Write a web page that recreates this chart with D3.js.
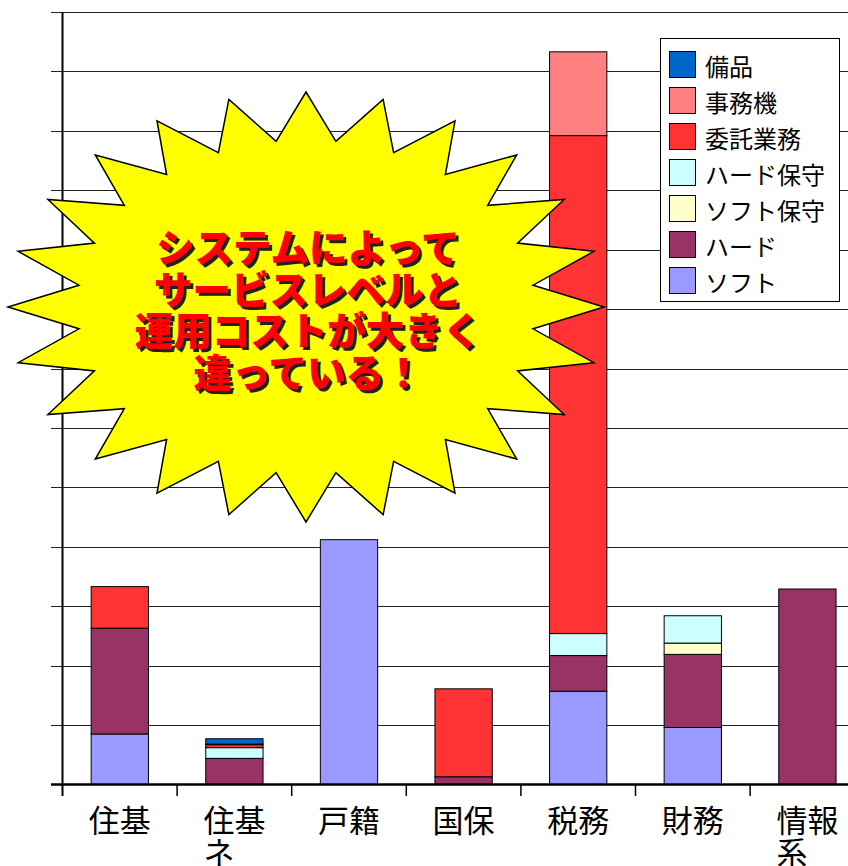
<!DOCTYPE html>
<html>
<head>
<meta charset="utf-8">
<script src="https://cdn.jsdelivr.net/npm/d3@7"></script>
<style>
  body { margin: 0; background: #fff; }
  svg { display: block; font-family: "Noto Sans CJK JP", "Noto Sans", sans-serif; }
</style>
</head>
<body>
<svg id="chart"></svg>
<script>
// categories (x axis)
var categories = ["住基", "住基ネ", "戸籍", "国保", "税務", "財務", "情報系"];

// series values, stacked bottom -> top
var soft        = [85, 0, 412, 0, 157, 96, 0];
var hard        = [178, 44, 0, 13, 60, 123, 329];
var softMaint   = [0, 0, 0, 0, 0, 19, 0];
var hardMaint   = [0, 18, 0, 0, 37, 46, 0];
var outsourcing = [70, 5, 0, 148, 838, 0, 0];
var officeMach  = [0, 1, 0, 0, 141, 0, 0];
var equipment   = [0, 9, 0, 0, 0, 0, 0];

var seriesNames = ["ソフト", "ハード", "ソフト保守", "ハード保守", "委託業務", "事務機", "備品"];
var seriesColors = ["#9999FF", "#993366", "#FFFFCC", "#CCFFFF", "#FF3333", "#FF8080", "#0066CC"];
var seriesValues = [soft, hard, softMaint, hardMaint, outsourcing, officeMach, equipment];

var yTicks = d3.range(0, 1301, 100);

var calloutLines = ["システムによって", "サービスレベルと", "運用コストが大きく", "違っている！"];

var width = 848, height = 866;
var svg = d3.select("#chart").attr("width", width).attr("height", height);

var x0 = 62.5, step = 114.6;
var x = d3.scaleBand()
    .domain(categories)
    .range([x0, x0 + step * categories.length])
    .paddingInner(0.5)
    .paddingOuter(0.25);

var y = d3.scaleLinear().domain([0, 1300]).range([784.5, 12]);

// table for d3.stack
var table = categories.map(function (c, i) {
    var row = { cat: c };
    seriesNames.forEach(function (s, j) { row[s] = seriesValues[j][i]; });
    return row;
});
var stacked = d3.stack().keys(seriesNames)(table);

// gridlines
svg.append("g").selectAll("line")
    .data(yTicks.slice(1))
    .enter().append("line")
    .attr("x1", 51).attr("x2", width)
    .attr("y1", d => Math.round(y(d)) + 0.5)
    .attr("y2", d => Math.round(y(d)) + 0.5)
    .attr("stroke", "#222")
    .attr("stroke-width", 1);

// bars
var layer = svg.append("g").selectAll("g")
    .data(stacked)
    .enter().append("g")
    .attr("fill", (d, i) => seriesColors[i]);

layer.selectAll("rect")
    .data(d => d.filter(p => p[1] - p[0] > 0))
    .enter().append("rect")
    .attr("x", d => x(d.data.cat))
    .attr("y", d => y(d[1]))
    .attr("width", x.bandwidth())
    .attr("height", d => y(d[0]) - y(d[1]))
    .attr("stroke", "#000")
    .attr("stroke-width", 1);

// axes
svg.append("line")
    .attr("x1", x0).attr("x2", x0)
    .attr("y1", y(1300)).attr("y2", 796)
    .attr("stroke", "#000").attr("stroke-width", 2);
svg.append("line")
    .attr("x1", 51).attr("x2", width)
    .attr("y1", y(0)).attr("y2", y(0))
    .attr("stroke", "#000").attr("stroke-width", 2.5);

// category ticks at band boundaries
svg.append("g").selectAll("line")
    .data(categories.slice(1))
    .enter().append("line")
    .attr("x1", d => x(d) - x.step() * 0.25)
    .attr("x2", d => x(d) - x.step() * 0.25)
    .attr("y1", y(0)).attr("y2", 796)
    .attr("stroke", "#000").attr("stroke-width", 1.5);

// category labels (wrap after 2 chars, left aligned under first line)
var fsCat = 31;
var labels = svg.append("g").selectAll("text")
    .data(categories)
    .enter().append("text")
    .attr("font-size", fsCat)
    .attr("fill", "#000");
labels.each(function (d) {
    var cx = x(d) + x.bandwidth() / 2;
    var first = d.slice(0, 2), rest = d.slice(2);
    var left = cx - first.length * fsCat / 2;
    var t = d3.select(this);
    t.append("tspan").attr("x", left).attr("y", 832).text(first);
    if (rest) t.append("tspan").attr("x", left).attr("y", 864).text(rest);
});

// legend
var lg = svg.append("g");
lg.append("rect")
    .attr("x", 660.5).attr("y", 38.5)
    .attr("width", 179).attr("height", 263)
    .attr("fill", "#fff").attr("stroke", "#000");
var order = seriesNames.map((s, i) => i).reverse();
var items = lg.selectAll("g.item")
    .data(order)
    .enter().append("g")
    .attr("transform", (d, i) => "translate(669," + (51 + i * 36) + ")");
items.append("rect")
    .attr("x", 0.5).attr("y", 0.5)
    .attr("width", 26).attr("height", 26)
    .attr("fill", d => seriesColors[d])
    .attr("stroke", "#000");
items.append("text")
    .attr("x", 36).attr("y", 14)
    .attr("dominant-baseline", "central")
    .attr("font-size", 24)
    .text(d => seriesNames[d]);

// starburst callout (24 points)
var cx = 306, cy = 307;
var pts = d3.range(48).map(function (i) {
    var a = Math.PI + i * Math.PI / 24;
    var outer = i % 2 === 0;
    var rx = outer ? 298 : 229, ry = outer ? 215 : 167;
    return [cx + rx * Math.cos(a), cy + ry * Math.sin(a)];
});
svg.append("path")
    .attr("d", d3.line()(pts) + "Z")
    .attr("fill", "#FFFF00")
    .attr("stroke", "#000")
    .attr("stroke-width", 1.5)
    .attr("stroke-linejoin", "miter");

var fsCall = 38.5;
var callout = svg.append("g")
    .attr("font-size", fsCall)
    .attr("font-weight", 900)
    .attr("text-anchor", "middle");
callout.selectAll("text.shadow")
    .data(calloutLines)
    .enter().append("text")
    .attr("class", "shadow")
    .attr("x", 308 + 3)
    .attr("y", (d, i) => 245 + i * 41.7 + 3)
    .attr("dominant-baseline", "central")
    .attr("fill", "#222")
    .text(d => d);
callout.selectAll("text.main")
    .data(calloutLines)
    .enter().append("text")
    .attr("class", "main")
    .attr("x", 308)
    .attr("y", (d, i) => 245 + i * 41.7)
    .attr("dominant-baseline", "central")
    .attr("fill", "#FF0000")
    .text(d => d);
</script>
</body>
</html>
